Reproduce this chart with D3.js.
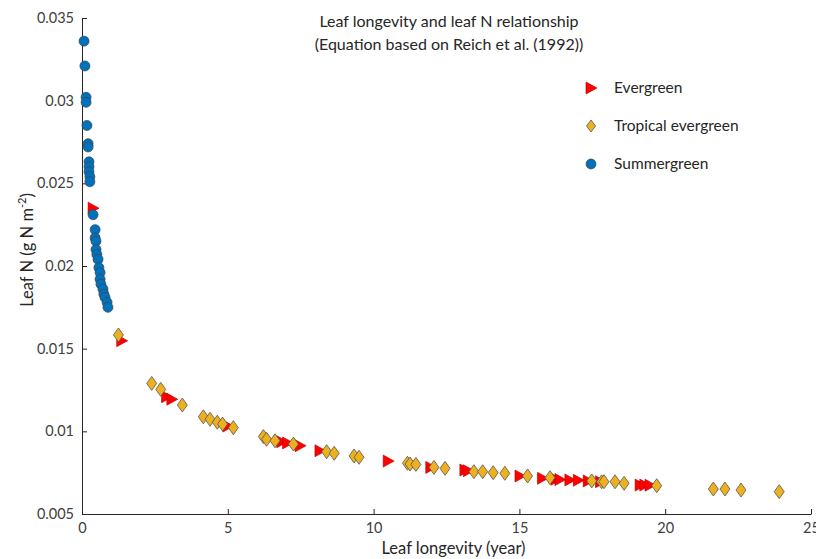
<!DOCTYPE html>
<html lang="en">
<head>
    <meta charset="UTF-8">
    <title>Leaf longevity and leaf N relationship</title>
    <script src="https://d3js.org/d3.v7.min.js"></script>
    <style>
        body { margin: 0; background: #fff; }
        text { font-family: Lato, "Open Sans", sans-serif; fill: #262626; }
        .axis path, .axis line { stroke: #262626; }
        .axis text { font-size: 14.5px; fill: #404040; }
    </style>
</head>
<body>
    <script>
        // leaf longevity (year) and leaf N (g N m-2)
        const evergreenL = [0.38, 1.36, 2.90, 3.08, 5.00, 6.85, 7.05, 7.48, 8.16, 10.5, 11.96, 13.13, 13.25,
                            15.02, 15.79, 16.25, 16.39, 16.73, 17.02, 17.36, 17.78, 19.14, 19.30, 19.48]
        const evergreenN = [0.0235, 0.01548, 0.01209, 0.01194, 0.01032, 0.00937, 0.0093, 0.00913, 0.00883, 0.00820, 0.00782, 0.00766, 0.00762,
                            0.0073, 0.00716, 0.0071, 0.00708, 0.00706, 0.00704, 0.0070, 0.00695, 0.00675, 0.00675, 0.00674]

        const tropicalL = [1.25, 2.39, 2.70, 3.44, 4.16, 4.39, 4.64, 4.82, 5.19, 6.22, 6.33, 6.62, 7.25,
                           8.39, 8.65, 9.33, 9.50, 11.16, 11.25, 11.45, 12.07, 12.45, 13.44, 13.74, 14.10, 14.50,
                           15.28, 16.05, 17.48, 17.82, 17.90, 18.28, 18.59, 19.71, 21.65, 22.05, 22.60, 23.91]
        const tropicalN = [0.01583, 0.01290, 0.01254, 0.01159, 0.01088, 0.01073, 0.01055, 0.01044, 0.01022, 0.00968, 0.00952, 0.00943, 0.00923,
                           0.00877, 0.00867, 0.00851, 0.00843, 0.00807, 0.00802, 0.00800, 0.00782, 0.00776, 0.00756, 0.00756, 0.00750, 0.00746,
                           0.0073, 0.0072, 0.0070, 0.00695, 0.00695, 0.00695, 0.00686, 0.00671, 0.00651, 0.00651, 0.00645, 0.00635]

        const summerL = [0.07, 0.10, 0.14, 0.14, 0.17, 0.21, 0.21, 0.24, 0.24, 0.24, 0.27, 0.27, 0.38, 0.45,
                         0.45, 0.48, 0.48, 0.51, 0.55, 0.58, 0.62, 0.62, 0.65, 0.72, 0.75, 0.79, 0.86, 0.89]
        const summerN = [0.0336, 0.0321, 0.0302, 0.0299, 0.0285, 0.0274, 0.0272, 0.0263, 0.0260, 0.0257, 0.0254, 0.0251, 0.0231, 0.0222,
                         0.0217, 0.0215, 0.0210, 0.0207, 0.0204, 0.0199, 0.0196, 0.0192, 0.0189, 0.0186, 0.0183, 0.0181, 0.0178, 0.0175]

        const xTicks = [0, 5, 10, 15, 20, 25]
        const yTicks = [0.005, 0.01, 0.015, 0.02, 0.025, 0.03, 0.035]
        const legendNames = ["Evergreen", "Tropical evergreen", "Summergreen"]

        const margin = {top: 18, right: 5, bottom: 45, left: 82},
              width = 816 - margin.left - margin.right,
              height = 559 - margin.top - margin.bottom

        const svg = d3.select("body").append("svg")
            .attr("width", 816)
            .attr("height", 559)
            .append("g")
            .attr("transform", "translate(" + margin.left + "," + margin.top + ")")

        const x = d3.scaleLinear().domain([0, 25]).range([0, width])
        const y = d3.scaleLinear().domain([0.005, 0.035]).range([height, 0])

        svg.append("g")
            .attr("class", "axis")
            .attr("transform", "translate(0," + height + ")")
            .call(d3.axisBottom(x).tickValues(xTicks).tickSizeInner(-5).tickSizeOuter(0).tickPadding(9).tickFormat(d3.format("d")))

        svg.append("g")
            .attr("class", "axis")
            .call(d3.axisLeft(y).tickValues(yTicks).tickSizeInner(-5).tickSizeOuter(0).tickPadding(8).tickFormat(d => String(+d.toFixed(3))))

        const triangle = "M-5,-6L6,0L-5,6Z"
        const diamond = "M0,-7L5,0L0,7L-5,0Z"

        svg.append("g").selectAll("path")
            .data(d3.zip(evergreenL, evergreenN))
            .enter().append("path")
            .attr("d", triangle)
            .attr("transform", d => "translate(" + x(d[0]) + "," + y(d[1]) + ")")
            .attr("fill", "#ff0000")
            .attr("stroke", "#b00000")
            .attr("stroke-width", 0.6)

        svg.append("g").selectAll("path")
            .data(d3.zip(tropicalL, tropicalN))
            .enter().append("path")
            .attr("d", diamond)
            .attr("transform", d => "translate(" + x(d[0]) + "," + y(d[1]) + ")")
            .attr("fill", "#edb120")
            .attr("stroke", "#555")
            .attr("stroke-width", 0.8)

        svg.append("g").selectAll("circle")
            .data(d3.zip(summerL, summerN))
            .enter().append("circle")
            .attr("cx", d => x(d[0]))
            .attr("cy", d => y(d[1]))
            .attr("r", 5)
            .attr("fill", "#0072bd")
            .attr("stroke", "#444")
            .attr("stroke-width", 0.7)

        // title
        svg.append("text")
            .attr("x", 367)
            .attr("y", 9)
            .attr("text-anchor", "middle")
            .style("font-size", "16px")
            .text("Leaf longevity and leaf N relationship")
        svg.append("text")
            .attr("x", 367)
            .attr("y", 32)
            .attr("text-anchor", "middle")
            .style("font-size", "16px")
            .text("(Equation based on Reich et al. (1992))")

        // legend
        const legend = svg.append("g").attr("transform", "translate(509,70)")
        const legendShapes = [
            g => g.append("path").attr("d", triangle).attr("fill", "#ff0000").attr("stroke", "#b00000").attr("stroke-width", 0.6),
            g => g.append("path").attr("d", "M0,-6L4.5,0L0,6L-4.5,0Z").attr("fill", "#edb120").attr("stroke", "#555").attr("stroke-width", 0.8),
            g => g.append("circle").attr("r", 5).attr("fill", "#0072bd").attr("stroke", "#444").attr("stroke-width", 0.7)
        ]
        legendNames.forEach((name, i) => {
            const g = legend.append("g").attr("transform", "translate(0," + (i * 38) + ")")
            legendShapes[i](g)
            g.append("text")
                .attr("x", 23)
                .attr("dy", "0.35em")
                .style("font-size", "15.5px")
                .text(name)
        })

        svg.append("text")
            .attr("x", width / 2 + 7)
            .attr("y", height + 40)
            .attr("text-anchor", "middle")
            .style("font-size", "16.5px")
            .text("Leaf longevity (year)")

        const ylab = svg.append("text")
            .attr("transform", "rotate(-90)")
            .attr("x", -232)
            .attr("y", -49)
            .attr("text-anchor", "middle")
            .style("font-size", "16.5px")
        ylab.append("tspan").text("Leaf N (g N m")
        ylab.append("tspan").attr("dy", "-7").style("font-size", "11px").text("-2")
        ylab.append("tspan").attr("dy", "7").text(")")
    </script>
</body>
</html>
